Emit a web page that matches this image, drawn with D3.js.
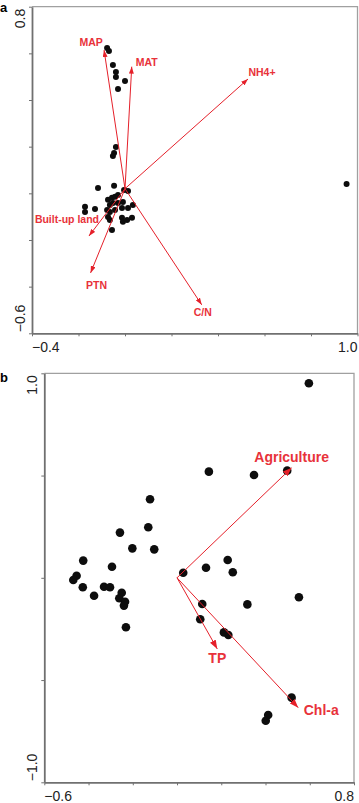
<!DOCTYPE html>
<html>
<head>
<meta charset="utf-8">
<script src="https://cdn.jsdelivr.net/npm/d3@7"></script>
<style>
  html, body { margin: 0; padding: 0; background: #fff; }
  svg { display: block; font-family: "Liberation Sans", Arial, sans-serif; }
</style>
</head>
<body>
<svg id="chart" width="359" height="803"></svg>
<script>
// ---- panel a : sites + environmental vectors
const sitesAx = [-0.077, -0.069, -0.052, -0.039, -0.039, 0.0, -0.030, -0.039, -0.047, -0.052,
  -0.116, -0.047, -0.004, 0.013, -0.073, -0.056, -0.043, -0.030, -0.065, -0.052,
  -0.030, -0.009, -0.077, -0.065, -0.043, -0.013, 0.013, 0.034, -0.172, -0.172,
  -0.129, -0.073, -0.065, -0.013, -0.009, 0.009, 0.030, -0.056, 0.953];
const sitesAy = [0.623, 0.610, 0.550, 0.520, 0.499, 0.482, 0.447, 0.199, 0.173, 0.160,
  0.023, 0.032, 0.014, 0.010, -0.028, -0.019, -0.015, -0.007, -0.050, -0.041,
  -0.041, -0.037, -0.071, -0.080, -0.071, -0.063, -0.063, -0.050, -0.058, -0.080,
  -0.067, -0.101, -0.114, -0.105, -0.122, -0.114, -0.105, -0.157, 0.040];
const envA = ["MAP", "MAT", "NH4+", "Built-up land", "PTN", "C/N"];
const envAx = [-0.090, 0.029, 0.529, -0.155, -0.148, 0.330];
const envAy = [0.614, 0.543, 0.490, -0.183, -0.341, -0.478];
const originA = [0, 0.02];
const ticksA_x = [-0.4, -0.2, 0, 0.2, 0.4, 0.6, 0.8, 1.0];
const ticksA_y = [-0.6, -0.4, -0.2, 0, 0.2, 0.4, 0.6, 0.8];

// ---- panel b
const sitesBx = [0.596, 0.144, 0.348, 0.498, -0.122, -0.130, -0.258, -0.202, -0.103, -0.424,
  -0.294, -0.454, -0.469, -0.426, -0.330, -0.303, -0.250, -0.375, -0.261, -0.235,
  -0.240, -0.231, 0.028, 0.131, 0.229, 0.252, 0.114, 0.318, 0.551, 0.105,
  0.212, 0.232, 0.518, 0.412, 0.401];
const sitesBy = [0.951, 0.519, 0.503, 0.524, 0.384, 0.247, 0.221, 0.144, 0.139, 0.084,
  0.054, 0.010, -0.011, -0.046, -0.044, -0.046, -0.073, -0.088, -0.100, -0.117,
  -0.136, -0.242, 0.025, 0.049, 0.087, 0.027, -0.128, -0.130, -0.095, -0.203,
  -0.267, -0.280, -0.586, -0.671, -0.699];
const envB = ["Agriculture", "TP", "Chl-a"];
const envBx = [0.518, 0.182, 0.548];
const envBy = [0.538, -0.348, -0.635];
const originB = [0, 0];
const ticksB_x = [-0.6, -0.4, -0.2, 0, 0.2, 0.4, 0.6, 0.8];
const ticksB_y = [-1.0, -0.5, 0, 0.5, 1.0];

const RED = "#e5202a";
const svg = d3.select("#chart");
const defs = svg.append("defs");

function marker(id, len, wid) {
  defs.append("marker")
    .attr("id", id)
    .attr("markerUnits", "userSpaceOnUse")
    .attr("viewBox", `0 0 ${len} ${wid}`)
    .attr("refX", len).attr("refY", wid / 2)
    .attr("markerWidth", len).attr("markerHeight", wid)
    .attr("orient", "auto")
    .append("path")
    .attr("d", `M0,0L${len},${wid / 2}L0,${wid}Z`)
    .attr("fill", RED);
}
marker("headA", 7, 5);
marker("headB", 9, 6.5);

function panel(o) {
  const x = d3.scaleLinear().domain(o.xdom).range([o.left, o.right]);
  const y = d3.scaleLinear().domain(o.ydom).range([o.bottom, o.top]);
  const g = svg.append("g");

  // frame: light top/right, darker left/bottom
  g.append("path")
    .attr("d", `M${o.left},${o.top}H${o.right}V${o.bottom}`)
    .attr("fill", "none").attr("stroke", "#a0a0a0").attr("stroke-width", 1.3);

  const ax = g.append("g").attr("transform", `translate(0,${o.bottom})`)
    .call(d3.axisBottom(x).tickValues(o.xt).tickSize(3).tickSizeOuter(0).tickFormat(""));
  const ay = g.append("g").attr("transform", `translate(${o.left},0)`)
    .call(d3.axisLeft(y).tickValues(o.yt).tickSize(3).tickSizeOuter(0).tickFormat(""));
  [ax, ay].forEach((a) => {
    a.select(".domain").attr("stroke", "#707070").attr("stroke-width", 1.8);
    a.selectAll(".tick line").attr("stroke", "#707070").attr("stroke-width", 1);
  });

  // only end labels, like the original
  const fmt = d3.format(".1f");
  g.append("text").attr("x", x(o.xdom[0])).attr("y", o.bottom + 19)
    .attr("font-size", 14).attr("fill", "#222").attr("text-anchor", "start")
    .text(fmt(o.xdom[0]));
  g.append("text").attr("x", x(o.xdom[1])).attr("y", o.bottom + 19)
    .attr("font-size", 14).attr("fill", "#222").attr("text-anchor", "end")
    .text(fmt(o.xdom[1]));
  g.append("text").attr("transform", `translate(${o.left - 7},${y(o.ydom[0]) - 1}) rotate(-90)`)
    .attr("font-size", 14).attr("fill", "#222").attr("text-anchor", "start")
    .text(fmt(o.ydom[0]));
  g.append("text").attr("transform", `translate(${o.left - 7},${y(o.ydom[1]) + 2}) rotate(-90)`)
    .attr("font-size", 14).attr("fill", "#222").attr("text-anchor", "end")
    .text(fmt(o.ydom[1]));

  g.append("text").attr("x", 0).attr("y", o.tagY)
    .attr("font-size", 13).attr("font-weight", "bold").text(o.tag);

  // sites
  g.selectAll("circle.site")
    .data(d3.range(o.sx.length))
    .join("circle")
    .attr("class", "site")
    .attr("cx", (i) => x(o.sx[i]))
    .attr("cy", (i) => y(o.sy[i]))
    .attr("r", o.r)
    .attr("fill", "#0d0d0d");

  // env vectors
  const ox = x(o.origin[0]), oy = y(o.origin[1]);
  g.selectAll("line.vec")
    .data(o.names)
    .join("line")
    .attr("class", "vec")
    .attr("x1", ox).attr("y1", oy)
    .attr("x2", (d, i) => x(o.ex[i]))
    .attr("y2", (d, i) => y(o.ey[i]))
    .attr("stroke", RED).attr("stroke-width", 1)
    .attr("marker-end", `url(#${o.head})`);

  g.selectAll("text.lab")
    .data(o.names)
    .join("text")
    .attr("class", "lab")
    .attr("x", (d, i) => x(o.ex[i]) + o.lab[i][0])
    .attr("y", (d, i) => y(o.ey[i]) + o.lab[i][1])
    .attr("text-anchor", "middle")
    .attr("dominant-baseline", "central")
    .attr("font-size", o.fs).attr("font-weight", "bold")
    .attr("fill", "#e8323a")
    .text((d) => d);
}

panel({
  tag: "a", tagY: 12,
  left: 32, right: 357.5, top: 6.7, bottom: 333.3,
  xdom: [-0.4, 1.0], ydom: [-0.6, 0.8], xt: ticksA_x, yt: ticksA_y,
  sx: sitesAx, sy: sitesAy, r: 3,
  names: envA, ex: envAx, ey: envAy, origin: originA, head: "headA", fs: 10.5,
  lab: [[-13, -8], [15, -5], [14, -7], [-22, -17], [6, 12], [1, 7]],
});

panel({
  tag: "b", tagY: 382,
  left: 44.3, right: 354, top: 373.3, bottom: 782.3,
  xdom: [-0.6, 0.8], ydom: [-1.0, 1.0], xt: ticksB_x, yt: ticksB_y,
  sx: sitesBx, sy: sitesBy, r: 4.3,
  names: envB, ex: envBx, ey: envBy, origin: originB, head: "headB", fs: 14,
  lab: [[0, -11], [0, 9], [23, 2]],
});
</script>
</body>
</html>
